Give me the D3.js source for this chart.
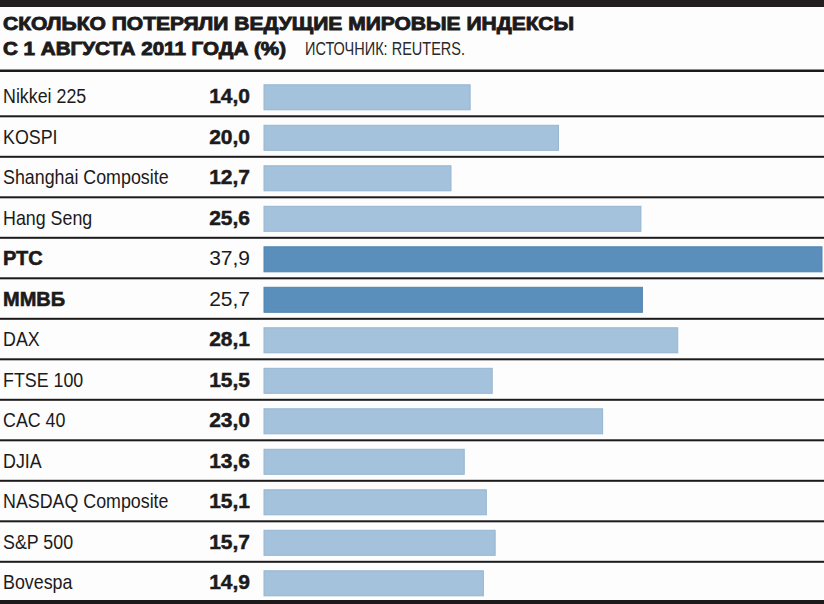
<!DOCTYPE html>
<html><head><meta charset="utf-8">
<script src="https://cdn.jsdelivr.net/npm/d3@7"></script>
<style>html,body{margin:0;padding:0;background:#fff;}svg{display:block;}</style>
</head><body>
<script>
const names = ["Nikkei 225","KOSPI","Shanghai Composite","Hang Seng","РТС","ММВБ","DAX","FTSE 100","CAC 40","DJIA","NASDAQ Composite","S&P 500","Bovespa"];
const values = [14.0,20.0,12.7,25.6,37.9,25.7,28.1,15.5,23.0,13.6,15.1,15.7,14.9];
const highlighted = ["РТС","ММВБ"];
const titleLines = ["СКОЛЬКО ПОТЕРЯЛИ ВЕДУЩИЕ МИРОВЫЕ ИНДЕКСЫ","С 1 АВГУСТА 2011 ГОДА (%)"];
const sourceText = "ИСТОЧНИК: REUTERS.";

const W = 824, H = 604;
const svg = d3.select("body").append("svg").attr("width", W).attr("height", H);
svg.append("rect").attr("width", W).attr("height", H).attr("fill", "#fdfdfd");

const sans = "'Liberation Sans',Arial,sans-serif";
const NARROW = 0.85;

// top band
svg.append("rect").attr("x",0).attr("y",0).attr("width",W).attr("height",7).attr("fill","#231f20");

// title
svg.append("text").attr("x",3).attr("y",30).text(titleLines[0])
  .attr("font-family",sans).attr("font-weight","bold").attr("font-size",19)
  .attr("fill","#1c1a1b").attr("stroke","#1c1a1b").attr("stroke-width",0.9)
  .attr("textLength",571).attr("lengthAdjust","spacingAndGlyphs");
svg.append("text").attr("x",3).attr("y",55).text(titleLines[1])
  .attr("font-family",sans).attr("font-weight","bold").attr("font-size",19)
  .attr("fill","#1c1a1b").attr("stroke","#1c1a1b").attr("stroke-width",0.9)
  .attr("textLength",283).attr("lengthAdjust","spacingAndGlyphs");
svg.append("text").attr("transform",`translate(305,55) scale(${NARROW},1)`).text(sourceText)
  .attr("font-family",sans).attr("font-size",19)
  .attr("fill","#2a2829").attr("textLength",160/NARROW).attr("lengthAdjust","spacingAndGlyphs");

svg.append("rect").attr("x",0).attr("y",69.5).attr("width",W).attr("height",2.5).attr("fill","#1c1a1b");

const y = d3.scaleBand().domain(names).range([75.8, 602.3]).padding(0);
const x = d3.scaleLinear().domain([0, 37.9]).range([264, 822]);

const rows = svg.append("g").selectAll("g").data(names.map((n,i)=>({name:n,value:values[i]})))
  .join("g").attr("transform", d => `translate(0,${y(d.name)})`);

rows.append("rect")
  .attr("x", x(0)).attr("y", 9).attr("height", 25)
  .attr("width", d => x(d.value) - x(0))
  .attr("fill", d => highlighted.includes(d.name) ? "#5b8fbb" : "#a4c2dc")
  .attr("stroke", d => highlighted.includes(d.name) ? "#5084b0" : "#95b5d0")
  .attr("stroke-width", 1);

rows.append("text")
  .attr("transform", d => highlighted.includes(d.name) ? "translate(3,27.5)" : `translate(3,27.5) scale(${NARROW},1)`)
  .text(d => d.name)
  .attr("font-family", sans)
  .attr("font-weight", d => highlighted.includes(d.name) ? "bold" : "normal")
  .attr("stroke", d => highlighted.includes(d.name) ? "#1c1a1b" : "none")
  .attr("stroke-width", 0.6)
  .attr("font-size", d => highlighted.includes(d.name) ? 20 : 21).attr("fill", "#1c1a1b");

rows.append("text").attr("x", 250).attr("y", 27.5).attr("text-anchor","end")
  .text(d => d3.format(".1f")(d.value).replace(".", ","))
  .attr("font-family", sans)
  .attr("font-weight", d => highlighted.includes(d.name) ? "normal" : "bold")
  .attr("stroke", d => highlighted.includes(d.name) ? "none" : "#1c1a1b")
  .attr("stroke-width", 0.5)
  .attr("font-size", 21).attr("fill", "#1c1a1b");

// separators
svg.append("g").selectAll("rect").data(names.slice(0, -1)).join("rect")
  .attr("x", 0).attr("width", W)
  .attr("y", d => y(d) + y.bandwidth() - 1).attr("height", 2)
  .attr("fill", "#1c1a1b");

// bottom band
svg.append("rect").attr("x",0).attr("y",600).attr("width",W).attr("height",4).attr("fill","#1c1a1b");
</script>
</body></html>
